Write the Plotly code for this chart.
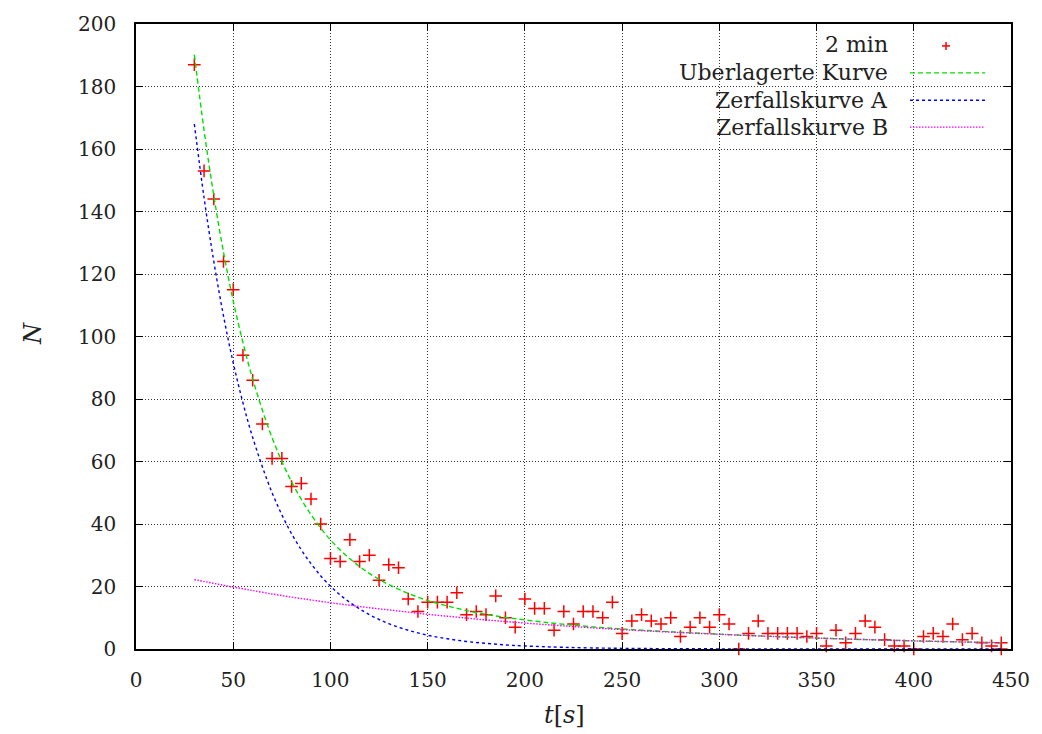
import plotly.graph_objects as go

# ---- measured data (2 min) ----
t_data = [30, 35, 40, 45, 50, 55, 60, 65, 70, 75, 80, 85, 90, 95, 100, 105, 110, 115, 120,
          125, 130, 135, 140, 145, 150, 155, 160, 165, 170, 175, 180, 185, 190, 195, 200,
          205, 210, 215, 220, 225, 230, 235, 240, 245, 250, 255, 260, 265, 270, 275, 280,
          285, 290, 295, 300, 305, 310, 315, 320, 325, 330, 335, 340, 345, 350, 355, 360,
          365, 370, 375, 380, 385, 390, 395, 400, 405, 410, 415, 420, 425, 430, 435, 440,
          445, 445]
n_data = [187, 153, 144, 124, 115, 94, 86, 72, 61, 61, 52, 53, 48, 40, 29, 28, 35, 28, 30,
          22, 27, 26, 16, 12, 15, 15, 15, 18, 11, 12, 11, 17, 10, 7, 16,
          13, 13, 6, 12, 8, 12, 12, 10, 15, 5, 9, 11, 9, 8, 10, 4,
          7, 10, 7, 11, 8, 0, 5, 9, 5, 5, 5, 5, 4, 5, 1, 6,
          2, 5, 9, 7, 3, 1, 1, 0, 4, 5, 4, 8, 3, 5, 2, 1,
          2, 0]

# ---- fitted curves, values read at sample times ----
t_curve = [30, 35, 40, 45, 50, 55, 60, 70, 80, 90, 100, 110, 120, 130, 140, 150, 160, 170,
           180, 190, 200, 220, 250, 300, 350, 400, 445]
n_sum = [190.2, 166.0, 145.1, 127.0, 111.4, 98.1, 86.4, 67.6, 53.5, 43.0, 34.9, 28.9, 24.2,
         20.6, 17.8, 15.5, 13.8, 12.3, 11.1, 10.1, 9.3, 7.9, 6.4, 4.75, 3.5, 2.6, 2.0]
n_a = [168.0, 144.4, 124.1, 106.6, 91.6, 78.8, 67.7, 50.0, 36.9, 27.3, 20.1, 14.9, 11.0,
       8.1, 6.0, 4.4, 3.3, 2.4, 1.8, 1.3, 0.97, 0.53, 0.21, 0.05, 0.01, 0.0, 0.0]
n_b = [22.2, 21.6, 21.0, 20.4, 19.8, 19.3, 18.7, 17.6, 16.6, 15.7, 14.8, 14.0, 13.2, 12.5,
       11.8, 11.1, 10.5, 9.9, 9.3, 8.8, 8.3, 7.4, 6.2, 4.7, 3.5, 2.6, 2.0]

legend_labels = ["2 min", "Uberlagerte Kurve", "Zerfallskurve A", "Zerfallskurve B"]

FONT = "DejaVu Serif"
RED, GREEN, BLUE, PINK = "#ff0000", "#00e000", "#0000ff", "#ff00ff"

fig = go.Figure()
fig.add_trace(go.Scatter(x=t_data, y=n_data, mode="markers", name=legend_labels[0],
                         marker=dict(symbol="cross-thin", size=9,
                                     line=dict(color=RED, width=1.5)),
                         cliponaxis=False, showlegend=False))
fig.add_trace(go.Scatter(x=t_curve, y=n_sum, mode="lines", name=legend_labels[1],
                         line=dict(color=GREEN, width=1.4, dash="5px,3px", shape="spline"),
                         showlegend=False))
fig.add_trace(go.Scatter(x=t_curve, y=n_a, mode="lines", name=legend_labels[2],
                         line=dict(color=BLUE, width=1.4, dash="3px,3px", shape="spline"),
                         showlegend=False))
fig.add_trace(go.Scatter(x=t_curve, y=n_b, mode="lines", name=legend_labels[3],
                         line=dict(color=PINK, width=1.4, dash="1.5px,1.5px", shape="spline"),
                         showlegend=False))

# plot area in pixels: x 136..1011, y 22..649
L, R, T, B = 136, 1011, 22, 649
W, H = R - L, B - T
def px(x):
    return (x - L) / W
def py(y):
    return (B - y) / H

shapes = []
annotations = []
# legend box (covers gridlines)
shapes.append(dict(type="rect", xref="paper", yref="paper", x0=px(615), x1=px(1000),
                   y0=py(140), y1=1, fillcolor="white", line=dict(width=0), layer="between"))
rows = [43, 71, 98.5, 125.5]
styles = [None, (GREEN, "5px,3px"), (BLUE, "3px,3px"), (PINK, "1.5px,1.5px")]
for lab, ry, st in zip(legend_labels, rows, styles):
    annotations.append(dict(text=lab, xref="paper", yref="paper", x=px(890), y=py(ry),
                            xanchor="right", yanchor="middle", showarrow=False,
                            font=dict(family=FONT, size=22, color="#222")))
    if st is None:
        shapes.append(dict(type="line", xref="paper", yref="paper", x0=px(942), x1=px(950),
                           y0=py(ry + 1), y1=py(ry + 1), line=dict(color=RED, width=1.5)))
        shapes.append(dict(type="line", xref="paper", yref="paper", x0=px(946), x1=px(946),
                           y0=py(ry - 3), y1=py(ry + 5), line=dict(color=RED, width=1.5)))
    else:
        shapes.append(dict(type="line", xref="paper", yref="paper", x0=px(910), x1=px(985),
                           y0=py(ry), y1=py(ry), line=dict(color=st[0], width=1.4, dash=st[1])))

annotations.append(dict(text="<i>t</i>[<i>s</i>]", xref="paper", yref="paper", x=px(564),
                        y=py(715), xanchor="center", yanchor="middle", showarrow=False,
                        font=dict(family=FONT, size=24, color="#222")))
annotations.append(dict(text="<i>N</i>", xref="paper", yref="paper", x=px(33), y=py(333),
                        xanchor="center", yanchor="middle", showarrow=False, textangle=-90,
                        font=dict(family=FONT, size=24, color="#222")))

axis_common = dict(showline=True, linecolor="black", linewidth=1.5, mirror="allticks",
                   ticks="inside", ticklen=7, tickcolor="black", tickwidth=1.2,
                   showgrid=True, gridcolor="#333", gridwidth=1, griddash="1px,2px",
                   zeroline=False, tickfont=dict(family=FONT, size=20, color="#222"))

fig.update_layout(
    width=1042, height=734,
    margin=dict(l=L, r=1042 - R, t=T, b=734 - B),
    paper_bgcolor="white", plot_bgcolor="white",
    xaxis=dict(range=[0, 450], dtick=50, tick0=0, ticklabelstandoff=12, **axis_common),
    yaxis=dict(range=[0, 200], dtick=20, tick0=0, ticklabelstandoff=14, **axis_common),
    shapes=shapes, annotations=annotations, showlegend=False,
)

fig.write_html("out.html")
